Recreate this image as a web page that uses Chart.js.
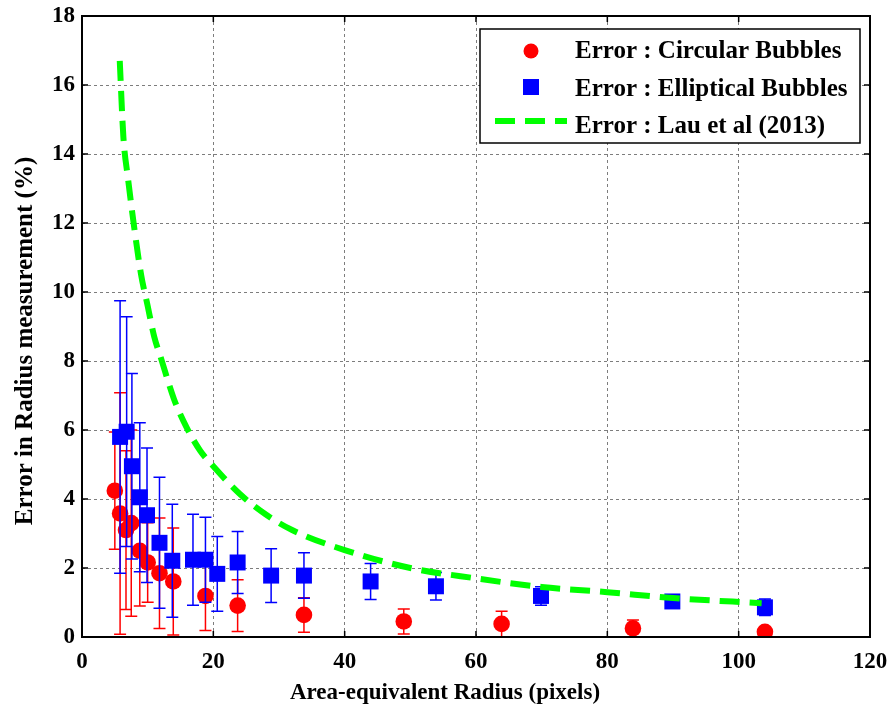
<!DOCTYPE html>
<html>
<head>
<meta charset="utf-8">
<script src="https://cdn.jsdelivr.net/npm/chart.js@4/dist/chart.umd.min.js"></script>
<style>
  html, body { margin: 0; padding: 0; background: #fff; }
  canvas { display: block; }
</style>
</head>
<body>
<canvas id="errChart" width="893" height="711"></canvas>
<script>
// circular bubbles (red)
const circX   = [5.0, 5.8, 6.7, 7.5, 8.8, 10.0, 11.8, 13.9, 18.8, 23.7, 33.8, 49.0, 63.9, 83.9, 104.0];
const circY   = [4.24, 3.58, 3.1, 3.3, 2.5, 2.16, 1.85, 1.61, 1.19, 0.91, 0.64, 0.45, 0.38, 0.25, 0.15];
const circErr = [1.7, 3.5, 2.3, 2.7, 1.6, 1.15, 1.6, 1.55, 1.0, 0.75, 0.5, 0.36, 0.37, 0.24, 0.05];

// elliptical bubbles (blue)
const ellX   = [5.8, 6.8, 7.6, 8.8, 9.9, 11.8, 13.75, 16.9, 18.8, 20.6, 23.7, 28.8, 33.8, 43.95, 53.9, 69.9, 89.9, 104.0];
const ellY   = [5.8, 5.95, 4.95, 4.05, 3.53, 2.73, 2.21, 2.24, 2.24, 1.83, 2.16, 1.78, 1.78, 1.61, 1.47, 1.19, 1.03, 0.86];
const ellErr = [3.95, 3.33, 2.69, 2.16, 1.95, 1.9, 1.64, 1.32, 1.23, 1.08, 0.9, 0.78, 0.66, 0.52, 0.4, 0.27, 0.1, 0.24];

// Lau et al (2013) curve
const lauX = [5.75, 6.3, 7, 8, 9, 10, 11, 12, 14, 16, 18, 20, 24, 28, 32, 40, 50, 60, 70, 80, 90, 103.5];
const lauY = [16.7, 14.5, 13.3, 11.8, 10.5, 9.6, 8.7, 8.1, 6.9, 6.05, 5.4, 4.95, 4.15, 3.55, 3.1, 2.52, 2.0, 1.7, 1.45, 1.3, 1.13, 0.98];

const labels = ['Error : Circular Bubbles', 'Error : Elliptical Bubbles', 'Error : Lau et al (2013)'];
const xTitle = 'Area-equivalent Radius (pixels)';
const yTitle = 'Error in Radius measurement (%)';

const FONT = '"Liberation Serif", "Times New Roman", serif';

function pts(xs, ys) {
    return xs.map((x, i) => ({ x: x, y: ys[i] }));
}

// vertical error bars, drawn just before each dataset's markers
const errorBars = {
    id: 'errorBars',
    beforeDatasetDraw(chart, args) {
        const ds = chart.data.datasets[args.index];
        if (!ds.errors) return;
        const xs = chart.scales.x, ys = chart.scales.y, ctx = chart.ctx;
        const area = chart.chartArea;
        ctx.save();
        ctx.beginPath();
        ctx.rect(area.left, area.top, area.right - area.left, area.bottom - area.top);
        ctx.clip();
        ctx.strokeStyle = ds.backgroundColor;
        ctx.lineWidth = 1.5;
        ds.data.forEach((p, i) => {
            const e = ds.errors[i];
            const px = xs.getPixelForValue(p.x);
            const top = ys.getPixelForValue(p.y + e);
            const bot = ys.getPixelForValue(p.y - e);
            ctx.beginPath();
            ctx.moveTo(px, top); ctx.lineTo(px, bot);
            ctx.moveTo(px - 6, top); ctx.lineTo(px + 6, top);
            ctx.moveTo(px - 6, bot); ctx.lineTo(px + 6, bot);
            ctx.stroke();
        });
        ctx.restore();
    }
};

// matlab style box, inner ticks, axis titles and legend
const frameAndLegend = {
    id: 'frameAndLegend',
    afterDraw(chart) {
        const ctx = chart.ctx;
        const a = chart.chartArea;
        const xs = chart.scales.x, ys = chart.scales.y;
        ctx.save();
        ctx.strokeStyle = '#000';
        ctx.lineWidth = 1.5;
        ctx.beginPath();
        xs.ticks.forEach(t => {
            const px = xs.getPixelForValue(t.value);
            ctx.moveTo(px, a.bottom); ctx.lineTo(px, a.bottom - 6);
            ctx.moveTo(px, a.top); ctx.lineTo(px, a.top + 6);
        });
        ys.ticks.forEach(t => {
            const py = ys.getPixelForValue(t.value);
            ctx.moveTo(a.left, py); ctx.lineTo(a.left + 6, py);
            ctx.moveTo(a.right, py); ctx.lineTo(a.right - 6, py);
        });
        ctx.stroke();
        ctx.lineWidth = 2;
        ctx.strokeRect(a.left, a.top, a.right - a.left, a.bottom - a.top);

        // axis titles
        ctx.fillStyle = '#000';
        ctx.textAlign = 'center';
        ctx.textBaseline = 'middle';
        ctx.font = 'bold 23px ' + FONT;
        ctx.fillText(xTitle, 445, 693);
        ctx.save();
        ctx.translate(26, 341);
        ctx.rotate(-Math.PI / 2);
        ctx.font = 'bold 25px ' + FONT;
        ctx.fillText(yTitle, 0, 0);
        ctx.restore();

        // legend box
        const lx = 480, ly = 29, lw = 380, lh = 114;
        ctx.fillStyle = '#fff';
        ctx.fillRect(lx, ly, lw, lh);
        ctx.lineWidth = 1.5;
        ctx.strokeRect(lx, ly, lw, lh);
        const textY = [52, 90, 127];
        const markY = [51, 87, 121];
        ctx.font = 'bold 25px ' + FONT;
        ctx.textBaseline = 'middle';
        ctx.textAlign = 'left';
        chart.data.datasets.forEach((ds, i) => {
            const my = markY[i];
            if (i === 0) {
                ctx.fillStyle = ds.backgroundColor;
                ctx.beginPath();
                ctx.arc(531, my, 7.5, 0, Math.PI * 2);
                ctx.fill();
            } else if (i === 1) {
                ctx.fillStyle = ds.backgroundColor;
                ctx.fillRect(523, my - 8, 16, 16);
            } else {
                ctx.strokeStyle = ds.borderColor;
                ctx.lineWidth = 6;
                ctx.setLineDash([20, 10]);
                ctx.beginPath();
                ctx.moveTo(495, my); ctx.lineTo(567, my);
                ctx.stroke();
                ctx.setLineDash([]);
            }
            ctx.fillStyle = '#000';
            ctx.fillText(ds.label, 575, textY[i]);
        });
        ctx.restore();
    }
};

const errChart = new Chart(document.getElementById('errChart'), {
    type: 'scatter',
    data: {
        datasets: [
            {
                label: labels[0],
                data: pts(circX, circY),
                errors: circErr,
                backgroundColor: '#ff0000',
                borderWidth: 0,
                pointStyle: 'circle',
                pointRadius: 8.3,
                order: 3
            },
            {
                label: labels[1],
                data: pts(ellX, ellY),
                errors: ellErr,
                backgroundColor: '#0000ff',
                borderWidth: 0,
                pointStyle: 'rect',
                pointRadius: 11.3,
                order: 2
            },
            {
                label: labels[2],
                data: pts(lauX, lauY),
                showLine: true,
                borderColor: '#00ff00',
                backgroundColor: '#00ff00',
                borderWidth: 6,
                borderDash: [20, 10],
                pointRadius: 0,
                cubicInterpolationMode: 'monotone',
                order: 1
            }
        ]
    },
    options: {
        responsive: false,
        animation: false,
        layout: {
            padding: { left: 0, right: 23, top: 16, bottom: 0 }
        },
        plugins: {
            legend: { display: false },
            tooltip: { enabled: false }
        },
        scales: {
            x: {
                type: 'linear',
                min: 0,
                max: 120,
                afterFit: (s) => { s.height = 74; s.paddingLeft = 0; s.paddingRight = 0; },
                ticks: {
                    stepSize: 20,
                    padding: 11,
                    color: '#000',
                    font: { family: FONT, size: 23, weight: 'bold' }
                },
                grid: { color: 'rgba(70,70,70,0.7)', lineWidth: 1, drawTicks: false },
                border: { display: false, dash: [3, 3] }
            },
            y: {
                type: 'linear',
                min: 0,
                max: 18,
                afterFit: (s) => { s.width = 82; s.paddingTop = 0; s.paddingBottom = 0; },
                ticks: {
                    stepSize: 2,
                    padding: 7,
                    color: '#000',
                    font: { family: FONT, size: 23, weight: 'bold' }
                },
                grid: { color: 'rgba(70,70,70,0.7)', lineWidth: 1, drawTicks: false },
                border: { display: false, dash: [3, 3] }
            }
        }
    },
    plugins: [errorBars, frameAndLegend]
});
</script>
</body>
</html>
